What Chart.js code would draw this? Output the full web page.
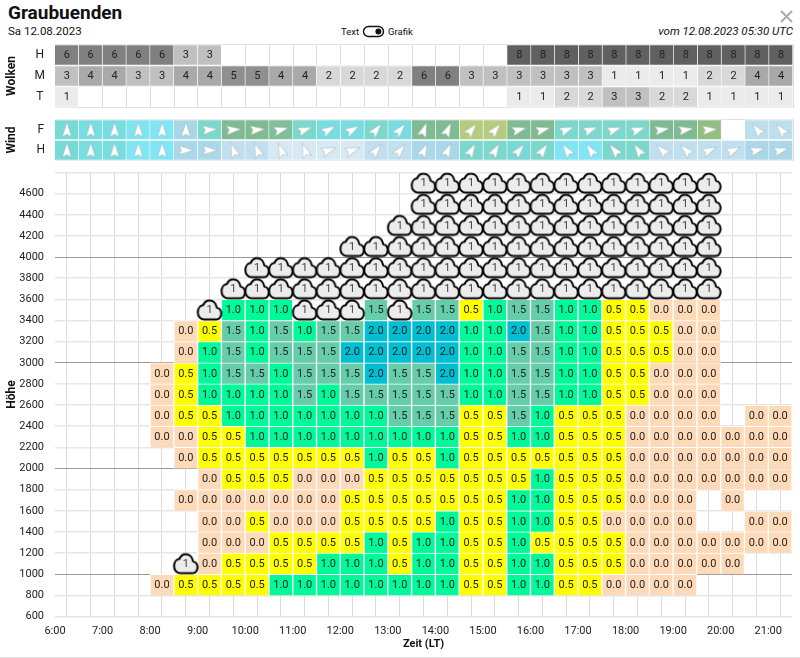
<!DOCTYPE html>
<html lang="de"><head><meta charset="utf-8"><title>Graubuenden</title>
<script src="https://cdn.jsdelivr.net/npm/chart.js@4/dist/chart.umd.min.js"></script>
<style>
html,body{margin:0;padding:0;background:#fff;width:800px;height:658px;overflow:hidden;font-family:Roboto,sans-serif;color:#111}
canvas{position:absolute;left:0}
.t{position:absolute;white-space:nowrap}
#edge{position:absolute;left:0;right:0;bottom:0;height:1px;background:#d8d8d8}
</style></head><body>
<div class="t" style="left:8px;top:1px;font-size:19px;font-weight:700;line-height:24px">Graubuenden</div>
<div class="t" style="left:8px;top:24px;font-size:11.5px;line-height:15px">Sa 12.08.2023</div>
<div class="t" style="left:341px;top:25px;font-size:9.5px;line-height:13px">Text</div>
<svg style="position:absolute;left:362px;top:25px" width="24" height="13"><rect x="1.5" y="1.5" width="20" height="10" rx="5" fill="#fff" stroke="#111" stroke-width="1.4"/><circle cx="16.4" cy="6.5" r="3" fill="#111"/></svg>
<div class="t" style="left:388px;top:25px;font-size:9.5px;line-height:13px">Grafik</div>
<div class="t" style="right:7px;top:24px;font-size:11.5px;line-height:15px;font-style:italic">vom 12.08.2023 05:30 UTC</div>
<svg style="position:absolute;left:780px;top:10px" width="13" height="13"><path d="M1 1L12 12M12 1L1 12" stroke="#aaa" stroke-width="2"/></svg>
<canvas id="wolken" style="top:40px" width="800" height="70"></canvas>
<canvas id="wind" style="top:115px" width="800" height="50"></canvas>
<canvas id="main" style="top:165px" width="800" height="493"></canvas>
<div id="edge"></div>
<script>
const _ = null, C = 'cloud';
const slotStart = [6,6.5,7,7.5,8,8.5,9,9.5,10,10.5,11,11.5,12,12.5,13,13.5,14,14.5,15,15.5,16,16.5,17,17.5,18,18.5,19,19.5,20,20.5,21];
const wolkenRows = ['H','M','T'];
const wolkenH = [6,6,6,6,6,3,3,_,_,_,_,_,_,_,_,_,_,_,_,8,8,8,8,8,8,8,8,8,8,8,8];
const wolkenM = [3,4,4,3,3,4,4,5,5,4,4,2,2,2,2,6,6,3,3,3,3,3,3,1,1,1,1,2,2,4,4];
const wolkenT = [1,_,_,_,_,_,_,_,_,_,_,_,_,_,_,_,_,_,_,1,1,2,2,3,3,2,2,1,1,1,1];
const windRows = ['F','H'];
const windSpeedF = [13,12,12,11,10,9,14,17,17,16,14,12,12,14,12,17,17,20,20,17,17,14,14,14,14,17,17,18,_,7,7];
const windDirF   = [0,0,0,0,0,0,85,85,85,75,70,60,60,40,40,20,25,40,40,75,75,68,68,70,70,80,80,85,_,320,320];
const windSpeedH = [13,12,12,10,10,8,8,6,6,4,4,4,4,6,6,8,8,14,14,13,14,10,10,14,14,6,6,6,6,8,8];
const windDirH   = [0,0,0,0,0,90,90,340,340,340,340,70,70,40,40,25,25,30,30,40,35,325,325,320,325,315,315,65,65,75,75];
const h4600 = [_,_,_,_,_,_,_,_,_,_,_,_,_,_,_,C,C,C,C,C,C,C,C,C,C,C,C,C,_,_,_];
const h4400 = [_,_,_,_,_,_,_,_,_,_,_,_,_,_,_,C,C,C,C,C,C,C,C,C,C,C,C,C,_,_,_];
const h4200 = [_,_,_,_,_,_,_,_,_,_,_,_,_,_,C,C,C,C,C,C,C,C,C,C,C,C,C,C,_,_,_];
const h4000 = [_,_,_,_,_,_,_,_,_,_,_,_,C,C,C,C,C,C,C,C,C,C,C,C,C,C,C,C,_,_,_];
const h3800 = [_,_,_,_,_,_,_,_,C,C,C,C,C,C,C,C,C,C,C,C,C,C,C,C,C,C,C,C,_,_,_];
const h3600 = [_,_,_,_,_,_,_,C,C,C,C,C,C,C,C,C,C,C,C,C,C,C,C,C,C,C,C,C,_,_,_];
const h3400 = [_,_,_,_,_,_,C,1,1,1,C,C,C,1.5,C,1.5,1.5,.5,1,1.5,1.5,1,1,.5,.5,0,0,0,_,_,_];
const h3200 = [_,_,_,_,_,0,.5,1.5,1,1.5,1,1.5,1.5,2,2,2,2,1,1,2,1.5,1,1,.5,.5,.5,0,0,_,_,_];
const h3000 = [_,_,_,_,_,0,1,1.5,1,1.5,1.5,1.5,2,2,2,2,2,1,1,1.5,1.5,1,1,.5,.5,.5,0,0,_,_,_];
const h2800 = [_,_,_,_,0,.5,1,1.5,1.5,1,1.5,1.5,1.5,2,1.5,1.5,2,1,1,1.5,1.5,1,1,.5,.5,0,0,0,_,_,_];
const h2600 = [_,_,_,_,0,.5,1,1,1,1,1.5,1,1.5,1.5,1.5,1.5,1.5,1,1,1.5,1.5,1,1,.5,.5,0,0,0,_,_,_];
const h2400 = [_,_,_,_,0,.5,.5,1,1,1,1,1,1,1,1.5,1.5,1.5,.5,.5,1.5,1,.5,.5,.5,0,0,0,0,_,0,0];
const h2200 = [_,_,_,_,0,0,.5,.5,1,1,1,1,1,1,1,1,1,.5,.5,1,1,.5,.5,.5,0,0,0,0,0,0,0];
const h2000 = [_,_,_,_,_,0,.5,.5,.5,.5,.5,.5,.5,1,.5,.5,1,.5,.5,.5,.5,.5,.5,.5,0,0,0,0,0,0,0];
const h1800 = [_,_,_,_,_,_,0,.5,.5,.5,0,0,0,.5,.5,.5,.5,.5,.5,.5,1,.5,.5,.5,0,0,0,0,0,0,0];
const h1600 = [_,_,_,_,_,0,0,0,0,0,0,0,.5,.5,.5,.5,.5,.5,.5,1,1,.5,.5,.5,0,0,0,_,0,_,_];
const h1400 = [_,_,_,_,_,_,0,0,.5,0,0,0,.5,.5,.5,.5,1,.5,.5,1,1,.5,.5,0,0,0,0,_,_,0,0];
const h1200 = [_,_,_,_,_,_,0,0,0,.5,.5,.5,.5,1,.5,1,1,.5,.5,1,.5,.5,.5,.5,0,0,0,0,0,0,0];
const h1000 = [_,_,_,_,_,C,0,.5,.5,.5,.5,1,1,1,.5,1,1,.5,.5,1,1,.5,.5,.5,0,0,0,0,0,_,_];
const h800  = [_,_,_,_,0,.5,.5,.5,.5,1,1,1,1,1,1,1,1,.5,.5,1,1,.5,.5,0,0,0,0,_,_,_,_];
const heightRows = [[4600,h4600],[4400,h4400],[4200,h4200],[4000,h4000],[3800,h3800],[3600,h3600],[3400,h3400],[3200,h3200],[3000,h3000],[2800,h2800],[2600,h2600],[2400,h2400],[2200,h2200],[2000,h2000],[1800,h1800],[1600,h1600],[1400,h1400],[1200,h1200],[1000,h1000],[800,h800]];

const cloudGrey = {1:'#ebebeb',2:'#d8d8d8',3:'#c0c0c0',4:'#a9a9a9',5:'#8f8f8f',6:'#808080',8:'#606060'};
const thermik = {0:'#ffdab9',0.5:'#ffff00',1:'#00fa9a',1.5:'#66cdaa',2:'#00bfd2'};
const windColor = {4:'#d7e9f5',6:'#c0e0ef',7:'#bde0ee',8:'#aad8ea',9:'#a8d8e8',10:'#80e6f5',11:'#80e4ec',12:'#78dde0',13:'#78dad6',14:'#7cd8cc',16:'#7fbf9a',17:'#7fbb92',18:'#90c080',20:'#b5cc7f'};
const textFont = 'Roboto';
Chart.defaults.font.family = textFont;
Chart.defaults.color = '#222';
Chart.defaults.animation = false;

function cloudIcon(){
  const c = document.createElement('canvas'); c.width = 28; c.height = 24;
  const x = c.getContext('2d');
  const p = new Path2D('M19.35 10.04C18.67 6.59 15.64 4 12 4 9.11 4 6.6 5.64 5.35 8.04 2.34 8.36 0 10.91 0 14c0 3.31 2.69 6 6 6h13c2.76 0 5-2.24 5-5 0-2.64-2.05-4.78-4.65-4.96z');
  const q = new Path2D(); q.addPath(p, new DOMMatrix([.98,0,0,1.2,2.25,-2.4]));
  x.fillStyle = '#ececec'; x.strokeStyle = '#000'; x.lineWidth = 2; x.lineJoin = 'round';
  x.fill(q); x.stroke(q);
  return c;
}
function arrowIcon(){
  const c = document.createElement('canvas'); c.width = 22; c.height = 22;
  const x = c.getContext('2d');
  x.translate(11,11);
  x.beginPath(); x.moveTo(0,-7.5); x.lineTo(4.6,7); x.lineTo(0,4.4); x.lineTo(-4.6,7); x.closePath();
  x.fillStyle = '#fff'; x.fill();
  x.strokeStyle = 'rgba(150,150,150,.55)'; x.lineWidth = .7; x.stroke();
  return c;
}
const cloudImg = cloudIcon(), arrowImg = arrowIcon();
const fixY = s => { s.width = 55; s.paddingTop = 0; s.paddingBottom = 0; };

const labelPlugin = {id:'cellText', afterDatasetsDraw(chart){
  const ctx = chart.ctx; ctx.save();
  ctx.textAlign = 'center'; ctx.textBaseline = 'middle';
  chart.data.datasets.forEach((ds,di)=>{
    if(!ds.showText) return;
    const meta = chart.getDatasetMeta(di);
    meta.data.forEach((el,i)=>{
      const raw = ds.data[i]; const pos = el.getCenterPoint();
      ctx.font = '11px '+textFont; ctx.fillStyle = ds.textColor || '#222';
      ctx.fillText(ds.showText(raw), pos.x, pos.y + 0.5);
    });
  });
  ctx.restore();
}};

function panel(id, rows, title, datasets, padTop, padBottom){
  return new Chart(document.getElementById(id), {
    type:'bar', plugins:[labelPlugin],
    data:{datasets},
    options:{
      indexAxis:'y', responsive:false, events:[],
      layout:{autoPadding:false,padding:{top:padTop,bottom:padBottom,right:7,left:0}},
      plugins:{legend:{display:false},tooltip:{enabled:false}},
      scales:{
        x:{type:'linear',min:6,max:21.5,ticks:{display:false,stepSize:.5},border:{display:false},
           grid:{color:'#dcdcdc',drawTicks:false},afterFit(s){s.height=0;}},
        y:{type:'category',labels:rows,offset:true,border:{display:false},
           grid:{color:'#e2e2e2',offset:true,drawTicks:false},
           ticks:{font:{size:12},color:'#222',padding:10,crossAlign:'center'},
           title:{display:true,text:title,font:{size:12,weight:'700'},color:'#111',padding:{top:5,bottom:0}},
           afterFit:fixY}
      }
    }
  });
}
function panelBars(row, vals, colorOf, text){
  const data = [];
  vals.forEach((v,i)=>{ if(v!==null) data.push({x:[slotStart[i],slotStart[i]+.5],y:row,v}); });
  return {data, grouped:false, barPercentage:1, categoryPercentage:1,
    backgroundColor:data.map(d=>colorOf[d.v]), borderColor:'#fff', borderWidth:1, showText:text, order:2};
}
const cloudText = d=>String(d.v);
panel('wolken', wolkenRows, 'Wolken', [
  panelBars('H', wolkenH, cloudGrey, cloudText),
  panelBars('M', wolkenM, cloudGrey, cloudText),
  panelBars('T', wolkenT, cloudGrey, cloudText)
], 4.5, 2.5);

function arrows(row, dirs){
  const data = [], rotation = [];
  dirs.forEach((d,i)=>{ if(d!==null){ data.push({x:slotStart[i]+.25,y:row}); rotation.push(d); }});
  return {type:'scatter', indexAxis:'x', data, rotation, pointStyle:arrowImg, radius:10, order:1};
}
panel('wind', windRows, 'Wind', [
  panelBars('F', windSpeedF, windColor, null),
  panelBars('H', windSpeedH, windColor, null),
  arrows('F', windDirF),
  arrows('H', windDirH)
], 4.5, 4.5);

const cells = [], clouds = [];
heightRows.forEach(([base,vals])=>vals.forEach((v,i)=>{
  if(v===C) clouds.push({x:slotStart[i]+.25,y:base+100,v:1});
  else if(v!==null) cells.push({x:slotStart[i]+.25,y:[base,base+200],v});
}));
new Chart(document.getElementById('main'), {
  type:'bar', plugins:[labelPlugin],
  data:{datasets:[
    {data:cells, grouped:false, barPercentage:1, categoryPercentage:1,
     backgroundColor:cells.map(d=>thermik[d.v]), borderColor:'#fff', borderWidth:1,
     showText:d=>d.v.toFixed(1), order:2},
    {type:'scatter', data:clouds, pointStyle:cloudImg, radius:10, order:1,
     showText:d=>String(d.v), textColor:'#444'}
  ]},
  options:{
    responsive:false, events:[],
    layout:{autoPadding:false,padding:{top:7.5,bottom:0,right:7,left:0}},
    plugins:{legend:{display:false},tooltip:{enabled:false}},
    scales:{
      x:{type:'linear',min:6,max:21.5,offset:false,border:{display:false},
         grid:{color:'#dcdcdc',drawTicks:false},
         ticks:{stepSize:.5,autoSkip:false,maxRotation:0,padding:8,font:{size:11},color:'#222',
                callback:v=>Number.isInteger(v)?v+':00':''},
         title:{display:true,text:'Zeit (LT)',font:{size:11,weight:'700'},color:'#111',padding:{top:0,bottom:7}},
         afterFit(s){s.height=41.5;}},
      y:{type:'linear',min:600,max:4800,border:{display:false},
         grid:{drawTicks:false,
               color:c=>c.tick.value%1000===0?'#999':'#e6e6e6',
               lineWidth:c=>c.tick.value%1000===0?1:1.6},
         ticks:{stepSize:200,padding:11,font:{size:11},color:'#222',callback:v=>v===4800?'':v},
         title:{display:true,text:'Höhe',font:{size:12,weight:'700'},color:'#111',padding:{top:5,bottom:0}},
         afterFit:fixY}
    }
  }
});
</script>
</body></html>
